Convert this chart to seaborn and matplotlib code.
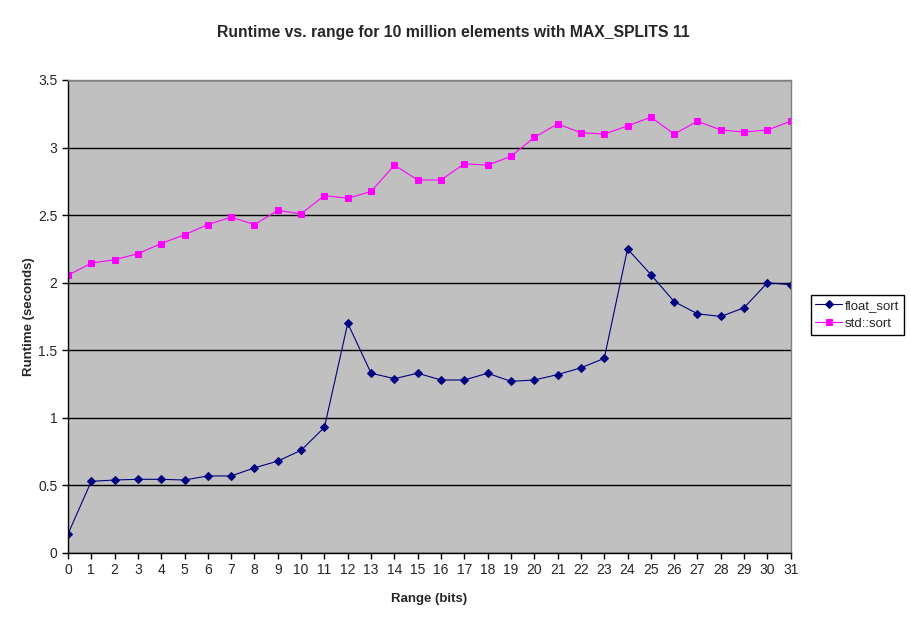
import pandas as pd
import numpy as np
import matplotlib.pyplot as plt
import seaborn as sns
from matplotlib.ticker import FuncFormatter, MultipleLocator

sns.set_style("white")
plt.rcParams['font.family'] = ['Liberation Sans', 'DejaVu Sans']

# Range in bits
range_bits = list(range(32))

# Runtime (seconds)
float_sort = [0.14, 0.53, 0.54, 0.545, 0.545, 0.54, 0.57, 0.57, 0.63, 0.68,
              0.76, 0.93, 1.70, 1.33, 1.29, 1.33, 1.28, 1.28, 1.33, 1.27,
              1.28, 1.32, 1.37, 1.44, 2.25, 2.06, 1.86, 1.77, 1.75, 1.815,
              2.00, 1.985]
std_sort = [2.055, 2.145, 2.17, 2.215, 2.29, 2.355, 2.43, 2.485, 2.43, 2.535,
            2.51, 2.645, 2.625, 2.675, 2.87, 2.76, 2.76, 2.88, 2.87, 2.935,
            3.075, 3.175, 3.11, 3.10, 3.16, 3.225, 3.10, 3.195, 3.13, 3.115,
            3.13, 3.195]

df = pd.DataFrame({'Range': range_bits, 'float_sort': float_sort, 'std::sort': std_sort})

fig = plt.figure(figsize=(9.11, 6.23), dpi=100)
ax = fig.add_axes([0.0746, 0.1124, 0.7934, 0.7592])
ax.set_facecolor('#C0C0C0')

sns.lineplot(x='Range', y='float_sort', data=df, ax=ax, color='#000080', marker='D',
             markersize=4.5, markeredgecolor='#000080', linewidth=0.8, label='float_sort')
sns.lineplot(x='Range', y='std::sort', data=df, ax=ax, color='#FF00FF', marker='s',
             markersize=5, markeredgecolor='#FF00FF', linewidth=0.8, label='std::sort')

ax.set_xlim(0, 31)
ax.set_ylim(0, 3.5)
ax.xaxis.set_major_locator(MultipleLocator(1))
ax.yaxis.set_major_locator(MultipleLocator(0.5))
ax.yaxis.set_major_formatter(FuncFormatter(lambda v, p: f'{v:g}'))
ax.grid(axis='y', color='black', linewidth=1)
ax.grid(axis='x', visible=False)
ax.set_axisbelow(True)

ax.tick_params(axis='both', direction='out', length=4, width=1, color='black',
               labelsize=10, bottom=True, left=True)
for side in ['left', 'bottom']:
    ax.spines[side].set_color('black')
    ax.spines[side].set_linewidth(1)
for side in ['top', 'right']:
    ax.spines[side].set_color('#808080')
    ax.spines[side].set_linewidth(1)

fig.text(453 / 911, 1 - 32 / 623, 'Runtime vs. range for 10 million elements with MAX_SPLITS 11',
         fontsize=11.3, fontweight='bold', ha='center', va='center')
ax.set_xlabel('Range (bits)', fontsize=9.5, fontweight='bold', labelpad=11)
ax.set_ylabel('Runtime (seconds)', fontsize=9.5, fontweight='bold', labelpad=2)

leg = ax.legend(loc='upper left', bbox_to_anchor=(0.890, 0.5265), bbox_transform=fig.transFigure,
                borderaxespad=0, fancybox=False, frameon=True, fontsize=9.5,
                handlelength=2.0, handletextpad=0.25, borderpad=0.35, labelspacing=0.45,
                edgecolor='black', framealpha=1)
leg.get_frame().set_linewidth(1)

plt.savefig('out.png', dpi=100)
